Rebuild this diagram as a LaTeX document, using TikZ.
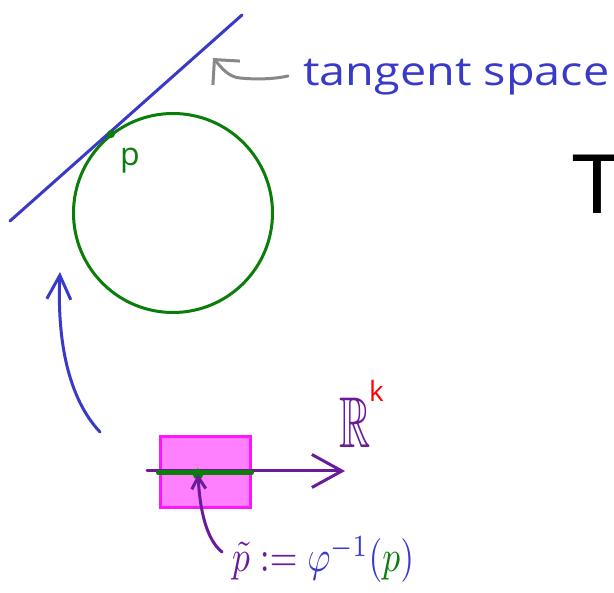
\documentclass[tikz,border=0pt]{standalone}
\usepackage{fontspec}
\usepackage{amssymb}
\usepackage{graphicx}
\setmainfont{Open Sans}
\newfontfamily\tfont{Liberation Sans}
\usetikzlibrary{arrows.meta}
\definecolor{blueC}{RGB}{58,58,200}
\definecolor{greenC}{RGB}{10,125,10}
\definecolor{purpleC}{RGB}{106,27,154}
\definecolor{magFill}{RGB}{255,128,255}
\definecolor{magDraw}{RGB}{255,20,255}
\definecolor{grayC}{RGB}{136,136,136}
\tikzset{
  pen/.style={line width=3pt, line cap=round, line join=round},
  lbl/.style={inner sep=0pt, anchor=base west},
}
\begin{document}
\begin{tikzpicture}[x=1pt,y=-1pt]
\useasboundingbox (0,0) rectangle (614,593);
% manifold (circle) and tangent line
\node[draw=greenC, line width=3pt, circle, minimum size=199pt, inner sep=0pt] (M) at (173,213) {};
\coordinate (tA) at (10,221);
\coordinate (tB) at (242,15);
\coordinate (p) at (111,134);
\draw[pen, blueC] (tA) -- (tB);
\fill[greenC] (p) circle (4pt);
\node[lbl, text=greenC, font=\fontsize{32}{32}\selectfont] (plbl) at (120,166) {p};
% tangent space label
\node[lbl, text=blueC, font=\fontsize{40}{40}\selectfont] (ts) at (303,86) {\scalebox{1.17}[1]{tangent space}};
\coordinate (gS) at (288,76);
\coordinate (gT) at (213,58);
\draw[pen, grayC, -{Straight Barb[length=18pt,width=36pt,line width=3pt]}] (gS) .. controls (270,80) and (250,79) .. (240,78) .. controls (228,77) and (221,67) .. (gT);
% T
\node[lbl, font=\tfont\fontsize{85}{85}\selectfont] (T) at (571,214) {T};
% curved blue arrow
\coordinate (bS) at (100,432);
\coordinate (bT) at (60,272);
\draw[pen, blueC, -{Straight Barb[length=24pt,width=24pt,line width=3pt]}] (bS) .. controls (68,398) and (57,340) .. (bT);
% chart
\node[draw=magDraw, fill=magFill, line width=3pt, minimum width=90pt, minimum height=71pt, inner sep=0pt] (U) at (205,472.5) {};
\coordinate (aS) at (147,471);
\coordinate (aT) at (345,471);
\draw[pen, purpleC, -{Straight Barb[length=30pt,width=33pt,line width=3pt]}] (aS) -- (aT);
\draw[line width=5pt, line cap=round, greenC] (U.west |- 0,473) -- (U.east |- 0,473);
\coordinate (pt) at (198,474);
\fill[greenC] (pt) circle (5.5pt);
\node[lbl, text=purpleC] (R) at (339,448) {\scalebox{0.6}[1]{\fontsize{72}{72}\selectfont$\mathbb{R}$}};
\node[lbl, text=red, font=\fontsize{28}{28}\selectfont] (k) at (369,402) {k};
% formula
\node[lbl] (f) at (232,572) {\scalebox{3.55}[4.4]{$\textcolor{purpleC}{\tilde p}\mathrel{\textcolor{purpleC}{:=}}\textcolor{blueC}{\varphi^{-1}(}\textcolor{greenC}{p}\textcolor{blueC}{)}$}};
\coordinate (sS) at (222,552);
\draw[pen, purpleC, -{Straight Barb[length=12pt,width=14pt,line width=3pt]}] (sS) .. controls (207,540) and (200,512) .. (pt.south);
\end{tikzpicture}
\end{document}
